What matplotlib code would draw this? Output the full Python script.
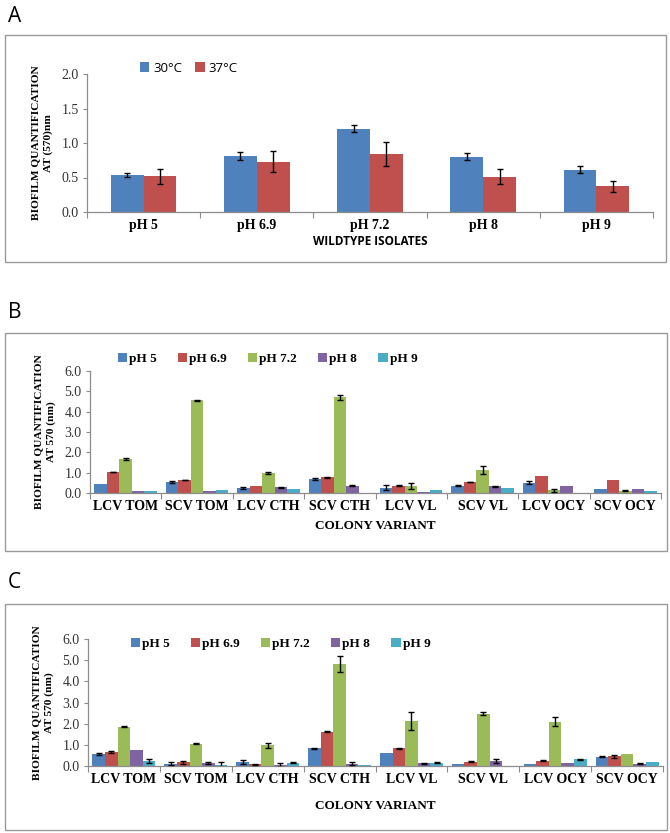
import matplotlib
matplotlib.use("Agg")
import matplotlib.pyplot as plt
import numpy as np
from matplotlib.patches import Rectangle

W, H = 670, 833

# ---------------- data ----------------
a_categories = ["pH 5", "pH 6.9", "pH 7.2", "pH 8", "pH 9"]
a_series = ["30°C", "37°C"]
a_30 = [0.54, 0.81, 1.21, 0.80, 0.61]
a_30_err = [0.03, 0.06, 0.05, 0.05, 0.05]
a_37 = [0.52, 0.73, 0.84, 0.51, 0.37]
a_37_err = [0.11, 0.15, 0.17, 0.11, 0.08]

variants = ["LCV TOM", "SCV TOM", "LCV CTH", "SCV CTH", "LCV VL", "SCV VL", "LCV OCY", "SCV OCY"]
ph_series = ["pH 5", "pH 6.9", "pH 7.2", "pH 8", "pH 9"]

b_ph5 = [0.46, 0.54, 0.25, 0.69, 0.26, 0.36, 0.51, 0.18]
b_ph69 = [1.03, 0.64, 0.34, 0.77, 0.36, 0.54, 0.85, 0.65]
b_ph72 = [1.67, 4.56, 0.98, 4.71, 0.33, 1.11, 0.13, 0.12]
b_ph8 = [0.11, 0.08, 0.28, 0.36, 0.05, 0.33, 0.36, 0.18]
b_ph9 = [0.09, 0.13, 0.18, 0.00, 0.13, 0.26, 0.00, 0.09]
b_ph5_err = [0.00, 0.03, 0.04, 0.03, 0.12, 0.03, 0.07, 0.00]
b_ph69_err = [0.02, 0.02, 0.00, 0.02, 0.02, 0.02, 0.00, 0.00]
b_ph72_err = [0.03, 0.03, 0.05, 0.12, 0.15, 0.20, 0.07, 0.04]
b_ph8_err = [0.00, 0.00, 0.02, 0.02, 0.00, 0.02, 0.00, 0.00]
b_ph9_err = [0.00, 0.00, 0.00, 0.00, 0.00, 0.00, 0.00, 0.00]

c_ph5 = [0.57, 0.10, 0.19, 0.84, 0.62, 0.08, 0.10, 0.43]
c_ph69 = [0.66, 0.17, 0.09, 1.61, 0.84, 0.21, 0.25, 0.46]
c_ph72 = [1.85, 1.06, 0.98, 4.83, 2.13, 2.48, 2.09, 0.57]
c_ph8 = [0.77, 0.14, 0.03, 0.11, 0.13, 0.24, 0.13, 0.10]
c_ph9 = [0.24, 0.06, 0.16, 0.03, 0.16, 0.02, 0.32, 0.19]
c_ph5_err = [0.03, 0.07, 0.10, 0.03, 0.00, 0.00, 0.00, 0.02]
c_ph69_err = [0.03, 0.06, 0.02, 0.02, 0.02, 0.02, 0.03, 0.08]
c_ph72_err = [0.03, 0.03, 0.13, 0.38, 0.42, 0.05, 0.22, 0.00]
c_ph8_err = [0.00, 0.04, 0.10, 0.08, 0.02, 0.09, 0.00, 0.02]
c_ph9_err = [0.08, 0.15, 0.02, 0.00, 0.02, 0.00, 0.02, 0.00]

colors5 = ["#4F81BD", "#C0504D", "#9BBB59", "#8064A2", "#4BACC6"]

SERIF = ["Liberation Serif", "DejaVu Serif"]
SANS = ["Open Sans", "DejaVu Sans"]

fig = plt.figure(figsize=(W / 100, H / 100), dpi=100)
fig.patch.set_facecolor("white")


def rect(left, top, right, bottom):
    return [left / W, 1 - bottom / H, (right - left) / W, (bottom - top) / H]


def fx(x):
    return x / W


def fy(y):
    return 1 - y / H


def panel_box(left, top, right, bottom):
    fig.patches.append(Rectangle((fx(left), fy(bottom)), (right - left) / W, (bottom - top) / H,
                                 transform=fig.transFigure, fill=False, edgecolor="#9a9a9a", lw=1.0))


def style_axes(ax, ncat, ymax, ystep, ylabel):
    for s in ["top", "right"]:
        ax.spines[s].set_visible(False)
    for s in ["left", "bottom"]:
        ax.spines[s].set_color("#8c8c8c")
        ax.spines[s].set_linewidth(0.9)
    ax.set_xlim(-0.5, ncat - 0.5)
    ax.set_ylim(0, ymax)
    ax.set_yticks(np.arange(0, ymax + 1e-9, ystep))
    ax.set_yticklabels([f"{v:.1f}" for v in np.arange(0, ymax + 1e-9, ystep)],
                       fontfamily=SERIF, fontsize=10, color="#333333")
    ax.tick_params(axis="y", direction="out", length=3, color="#8c8c8c", pad=3)
    ax.set_xticks(np.arange(-0.5, ncat, 1.0))
    ax.set_xticklabels([])
    ax.tick_params(axis="x", which="major", direction="out", length=4, color="#8c8c8c")
    ax.set_xticks(np.arange(ncat), minor=True)
    ax.tick_params(axis="x", which="minor", length=0, pad=5)
    ax.set_ylabel(ylabel, fontfamily=SERIF, fontweight="bold", fontsize=8.2, linespacing=1.45, labelpad=6)


# ---------------- Panel A ----------------
fig.text(fx(8), fy(16), "A", fontfamily=SANS, fontsize=15, va="center", ha="left")
panel_box(5, 35, 666, 262)
axA = fig.add_axes(rect(87, 74, 653, 212))
xA = np.arange(len(a_categories))
bwA = 0.29
axA.bar(xA - bwA / 2, a_30, bwA, color=colors5[0], label=a_series[0], zorder=2)
axA.bar(xA + bwA / 2, a_37, bwA, color=colors5[1], label=a_series[1], zorder=2)
axA.errorbar(xA - bwA / 2, a_30, yerr=a_30_err, fmt="none", ecolor="black", elinewidth=1, capsize=2.5, zorder=3)
axA.errorbar(xA + bwA / 2, a_37, yerr=a_37_err, fmt="none", ecolor="black", elinewidth=1, capsize=2.5, zorder=3)
style_axes(axA, len(a_categories), 2.0, 0.5, "BIOFILM QUANTIFICATION\nAT (570)nm")
axA.set_xticklabels(a_categories, minor=True, fontfamily=SERIF, fontweight="bold", fontsize=10)
axA.set_xlabel("WILDTYPE ISOLATES", fontfamily=SANS, fontweight="bold", fontsize=8.5, labelpad=2)
axA.legend(loc="center left", bbox_to_anchor=(fx(128), fy(68)), bbox_transform=fig.transFigure,
           ncol=2, frameon=False, handlelength=0.7, handleheight=0.7, handletextpad=0.3,
           columnspacing=1.0, prop={"family": SANS, "size": 9.5})


def grouped(ax, vals, errs, bw):
    n = len(vals)
    x = np.arange(len(variants))
    for i in range(n):
        off = (i - (n - 1) / 2) * bw
        ax.bar(x + off, vals[i], bw, color=colors5[i], label=ph_series[i], zorder=2)
        e = np.array(errs[i])
        mask = e > 0
        ax.errorbar((x + off)[mask], np.array(vals[i])[mask], yerr=e[mask], fmt="none",
                    ecolor="black", elinewidth=1, capsize=2, zorder=3)


# ---------------- Panel B ----------------
fig.text(fx(8), fy(313), "B", fontfamily=SANS, fontsize=15, va="center", ha="left")
panel_box(5, 333, 667, 551)
axB = fig.add_axes(rect(90, 371, 661, 493))
grouped(axB, [b_ph5, b_ph69, b_ph72, b_ph8, b_ph9],
        [b_ph5_err, b_ph69_err, b_ph72_err, b_ph8_err, b_ph9_err], 0.175)
style_axes(axB, len(variants), 6.0, 1.0, "BIOFILM QUANTIFICATION\nAT 570 (nm)")
axB.set_xticklabels(variants, minor=True, fontfamily=SERIF, fontweight="bold", fontsize=10)
axB.set_xlabel("COLONY VARIANT", fontfamily=SERIF, fontweight="bold", fontsize=9.5, labelpad=5)
axB.legend(loc="center left", bbox_to_anchor=(fx(106), fy(359)), bbox_transform=fig.transFigure,
           ncol=5, frameon=False, handlelength=0.7, handleheight=0.7, handletextpad=0.15,
           columnspacing=1.6, prop={"family": SERIF, "weight": "bold", "size": 9.5})

# ---------------- Panel C ----------------
fig.text(fx(8), fy(582), "C", fontfamily=SANS, fontsize=15, va="center", ha="left")
panel_box(5, 604, 667, 830)
axC = fig.add_axes(rect(88, 639, 663, 766))
grouped(axC, [c_ph5, c_ph69, c_ph72, c_ph8, c_ph9],
        [c_ph5_err, c_ph69_err, c_ph72_err, c_ph8_err, c_ph9_err], 0.175)
style_axes(axC, len(variants), 6.0, 1.0, "BIOFILM QUANTIFICATION\nAT 570 (nm)")
axC.set_xticklabels(variants, minor=True, fontfamily=SERIF, fontweight="bold", fontsize=10)
axC.set_xlabel("COLONY VARIANT", fontfamily=SERIF, fontweight="bold", fontsize=9.5, labelpad=10)
axC.legend(loc="center left", bbox_to_anchor=(fx(119), fy(644)), bbox_transform=fig.transFigure,
           ncol=5, frameon=False, handlelength=0.7, handleheight=0.7, handletextpad=0.15,
           columnspacing=1.6, prop={"family": SERIF, "weight": "bold", "size": 9.5})

fig.savefig("out.png", dpi=100, facecolor="white")
